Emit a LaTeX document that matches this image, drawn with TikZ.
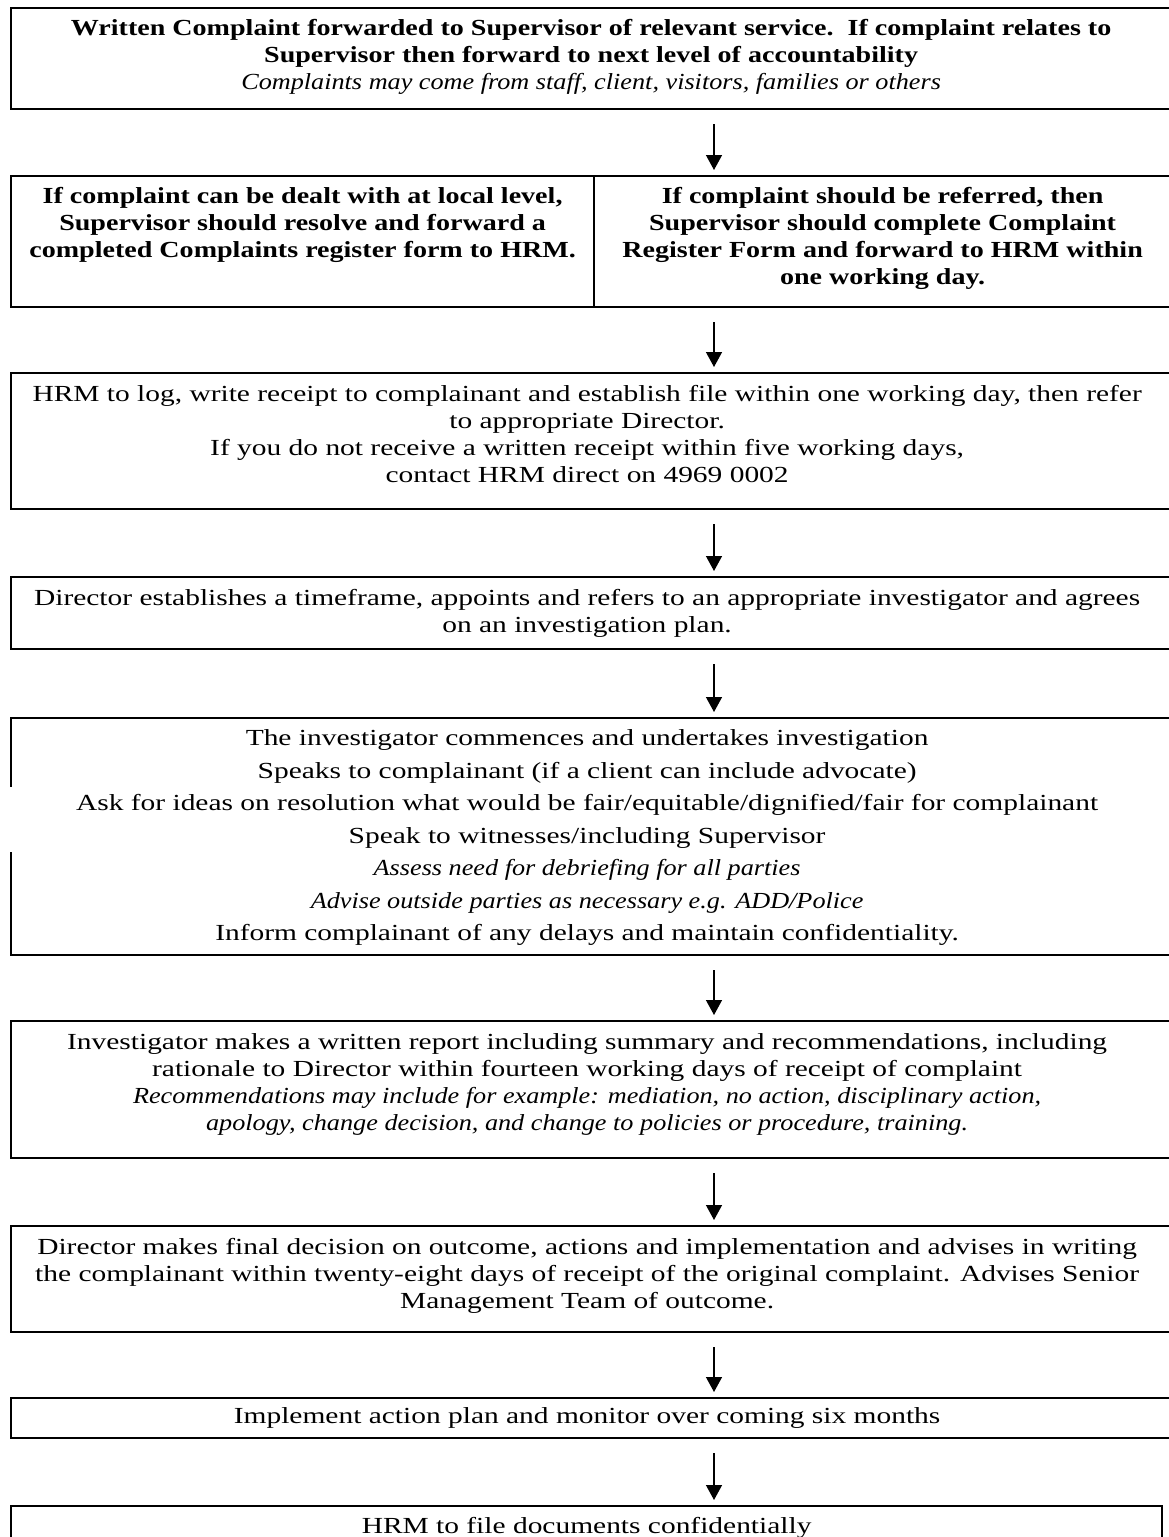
\documentclass[tikz,border=0pt]{standalone}
\usepackage{fontspec}
\setmainfont{Liberation Serif}[UprightFeatures={FakeStretch=1.28}, BoldFeatures={FakeStretch=1.22}, ItalicFeatures={FakeStretch=1.14}]
\usetikzlibrary{arrows.meta,calc}
\tikzset{
  box/.style={draw, line width=2.2pt, inner sep=0pt, anchor=north west},
  arr/.style={line width=1.4pt, -{Triangle[width=16pt,length=15pt]}, shorten <=14pt, shorten >=5pt}
}
% #1 width, #2 height, #3 top pad, #4 right shift pad, #5 text
\newcommand{\bxt}[5]{\parbox[c][#2pt][t]{#1pt}{\centering\vspace*{#3pt}\strut #5}\hspace*{#4pt}}
\begin{document}
\begin{tikzpicture}[x=1pt,y=-1pt]
\useasboundingbox (0,0) rectangle (1168,1537);
\fontsize{23}{27}\selectfont
\coordinate (ax) at (714,0);
\node[box] (b1) at (10,7) {\bxt{1160}{101}{8.5}{8}{\textbf{Written Complaint forwarded to Supervisor of relevant service.\ \ If complaint relates to\\ Supervisor then forward to next level of accountability}\\ \textit{Complaints may come from staff, client, visitors, families or others}}};
\node[box] (b2l) at (10,175) {\bxt{583}{131}{8.5}{0}{\textbf{If complaint can be dealt with at local level,\\ Supervisor should resolve and forward a\\ completed Complaints register form to HRM.}}};
\node[box] (b2r) at (593,175) {\bxt{577}{131}{8.5}{8}{\textbf{If complaint should be referred, then\\ Supervisor should complete Complaint\\ Register Form and forward to HRM within\\ one working day.}}};
\node[box] (b3) at (10,372) {\bxt{1152}{136}{9}{16}{HRM to log, write receipt to complainant and establish file within one working day, then refer\\ to appropriate Director.\\ If you do not receive a written receipt within five working days,\\ contact HRM direct on 4969 0002}};
\node[box] (b4) at (10,576) {\bxt{1152}{72}{9}{16}{Director establishes a timeframe, appoints and refers to an appropriate investigator and agrees\\ on an investigation plan.}};
\node[box] (b5) at (10,717) {\fontsize{23}{32.5}\selectfont\bxt{1152}{237}{5}{16}{The investigator commences and undertakes investigation\\ Speaks to complainant (if a client can include advocate)\\ Ask for ideas on resolution what would be fair/equitable/dignified/fair for complainant\\ Speak to witnesses/including Supervisor\\ \textit{Assess need for debriefing for all parties}\\ \textit{Advise outside parties as necessary e.g. ADD/Police}\\ Inform complainant of any delays and maintain confidentiality.}};
\fill[white] ($(b5.north west)+(-3,70)$) rectangle ($(b5.north west)+(3,135)$);
\node[box] (b6) at (10,1020) {\bxt{1152}{137}{9}{16}{Investigator makes a written report including summary and recommendations, including\\ rationale to Director within fourteen working days of receipt of complaint\\ \textit{Recommendations may include for example: mediation, no action, disciplinary action,}\\ \textit{apology, change decision, and change to policies or procedure, training.}}};
\node[box] (b7) at (10,1225) {\bxt{1152}{106}{9}{16}{Director makes final decision on outcome, actions and implementation and advises in writing\\ the complainant within twenty-eight days of receipt of the original complaint. Advises Senior\\ Management Team of outcome.}};
\node[box] (b8) at (10,1397) {\bxt{1152}{40}{6.5}{16}{Implement action plan and monitor over coming six months}};
\node[box] (b9) at (10,1505) {\bxt{1151}{60}{8.5}{0}{HRM to file documents confidentially}};
\draw[arr] (b1.south -| ax) -- (b2r.north -| ax);
\draw[arr] (b2r.south -| ax) -- (b3.north -| ax);
\draw[arr] (b3.south -| ax) -- (b4.north -| ax);
\draw[arr] (b4.south -| ax) -- (b5.north -| ax);
\draw[arr] (b5.south -| ax) -- (b6.north -| ax);
\draw[arr] (b6.south -| ax) -- (b7.north -| ax);
\draw[arr] (b7.south -| ax) -- (b8.north -| ax);
\draw[arr] (b8.south -| ax) -- (b9.north -| ax);
\end{tikzpicture}
\end{document}
